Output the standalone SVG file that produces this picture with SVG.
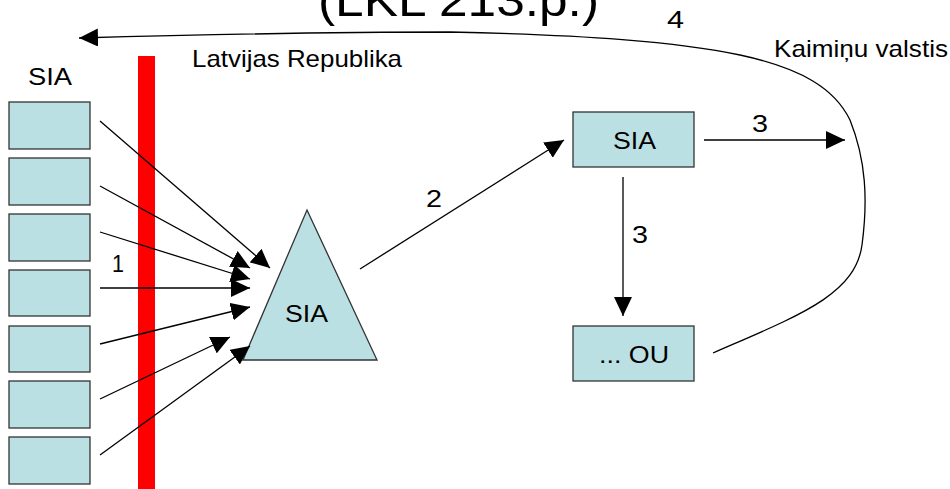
<svg xmlns="http://www.w3.org/2000/svg" width="950" height="489" viewBox="0 0 950 489">
<style>
.box{fill:#BBE0E3;stroke:#333;stroke-width:1.3}
.t{font-family:"Liberation Sans",Arial,sans-serif;font-size:24px;fill:#000}
.ln{fill:none;stroke:#000;stroke-width:1.3}
</style>
<defs>
<marker id="ah" markerUnits="userSpaceOnUse" markerWidth="20" markerHeight="18" refX="19" refY="9" orient="auto">
<path d="M0,0 L19,9 L0,18 Z" fill="#000"/>
</marker>
</defs>
<rect width="950" height="489" fill="#fff"/>
<text class="t" x="318" y="16" style="font-size:46px" textLength="281" lengthAdjust="spacingAndGlyphs">(LKL 213.p.)</text>
<rect x="138" y="56" width="17" height="433" fill="#f00"/>
<text class="t" x="192" y="67" textLength="210" lengthAdjust="spacingAndGlyphs">Latvijas Republika</text>
<text class="t" x="774" y="57" textLength="174" lengthAdjust="spacingAndGlyphs">Kaimiņu valstis</text>
<text class="t" x="28" y="85" textLength="44" lengthAdjust="spacingAndGlyphs">SIA</text>
<g id="sia-left">
<rect id="b1" class="box" x="9" y="102" width="81" height="47"/>
<rect id="b2" class="box" x="9" y="158" width="81" height="47"/>
<rect id="b3" class="box" x="9" y="214" width="81" height="47"/>
<rect id="b4" class="box" x="9" y="270" width="81" height="46"/>
<rect id="b5" class="box" x="9" y="326" width="81" height="46"/>
<rect id="b6" class="box" x="9" y="381" width="81" height="47"/>
<rect id="b7" class="box" x="9" y="437" width="81" height="47"/>
</g>
<g id="sia-triangle">
<polygon class="box" points="307,210 377,360 243,360"/>
<text class="t" x="285" y="322" textLength="43" lengthAdjust="spacingAndGlyphs">SIA</text>
</g>
<g id="sia-right">
<rect class="box" x="573" y="112" width="121" height="55"/>
<text class="t" x="613" y="149" textLength="43" lengthAdjust="spacingAndGlyphs">SIA</text>
</g>
<g id="ou">
<rect class="box" x="573" y="326" width="121" height="55"/>
<text class="t" x="599" y="363" textLength="70" lengthAdjust="spacingAndGlyphs">... OU</text>
</g>
<g id="connectors">
<line class="ln" x1="100" y1="121" x2="270" y2="268" marker-end="url(#ah)"/>
<line class="ln" x1="100" y1="186" x2="250" y2="268" marker-end="url(#ah)"/>
<line class="ln" x1="100" y1="232" x2="250" y2="279" marker-end="url(#ah)"/>
<line class="ln" x1="100" y1="288" x2="250" y2="288" marker-end="url(#ah)"/>
<line class="ln" x1="100" y1="344" x2="250" y2="307" marker-end="url(#ah)"/>
<line class="ln" x1="100" y1="399" x2="230" y2="337" marker-end="url(#ah)"/>
<line class="ln" x1="100" y1="455" x2="250" y2="346" marker-end="url(#ah)"/>
<line class="ln" x1="360" y1="269" x2="564" y2="140" marker-end="url(#ah)"/>
<line class="ln" x1="704" y1="140" x2="845" y2="140" marker-end="url(#ah)"/>
<line class="ln" x1="623" y1="177" x2="623" y2="316" marker-end="url(#ah)"/>
<path class="ln" d="M713,353 C800,315 855,295 862,245 C868,200 866,160 850,120 C820,58 720,38 450,32 Q300,32 79,38" marker-end="url(#ah)"/>
<text class="t" x="112" y="272" textLength="12" lengthAdjust="spacingAndGlyphs">1</text>
<text class="t" x="426" y="207" textLength="16" lengthAdjust="spacingAndGlyphs">2</text>
<text class="t" x="752" y="132" textLength="16" lengthAdjust="spacingAndGlyphs">3</text>
<text class="t" x="632" y="243" textLength="16" lengthAdjust="spacingAndGlyphs">3</text>
<text class="t" x="667" y="28" textLength="17" lengthAdjust="spacingAndGlyphs">4</text>
</g>
</svg>
